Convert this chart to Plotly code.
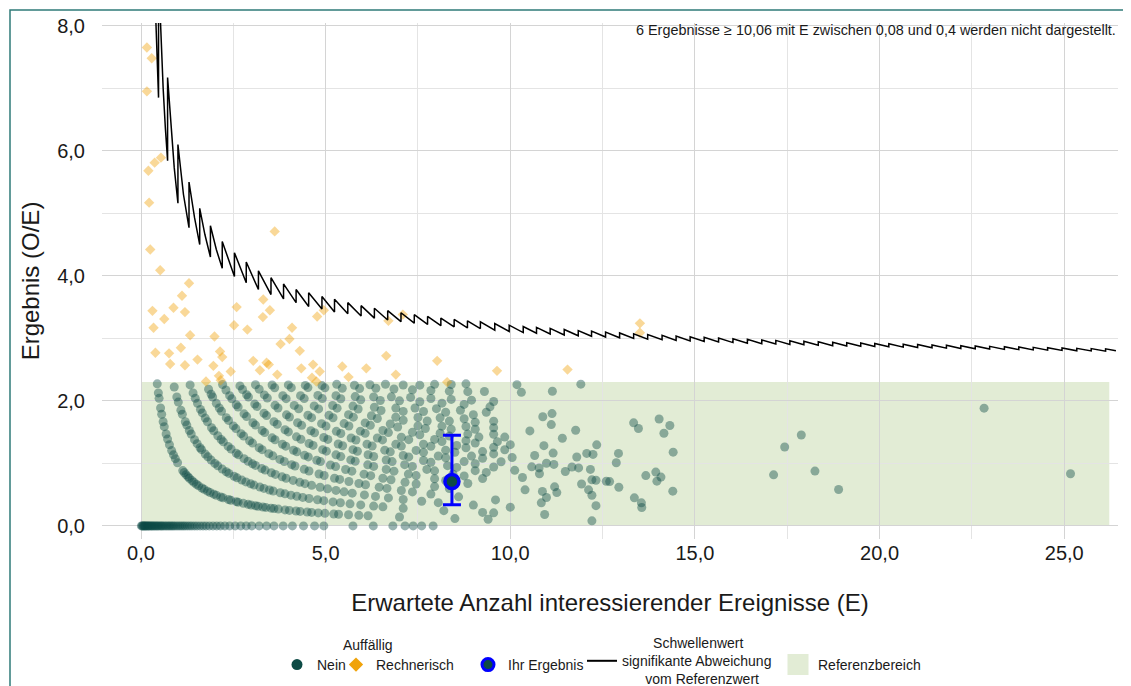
import plotly.graph_objects as go

# ---------------- data ----------------
# expected values E of "Nein" results, grouped by observed count O
E_O0 = [0.01,0.03,0.05,0.07,0.09,0.11,0.13,0.15,0.18,0.2,0.22,0.25,0.28,0.3,0.33,0.36,0.39,0.42,0.45,0.48,
        0.52,0.55,0.58,0.62,0.66,0.7,0.74,0.78,0.82,0.86,0.9,0.95,1.0,1.05,1.1,1.15,1.2,1.26,1.32,1.38,
        1.45,1.52,1.6,1.68,1.76,1.85,1.95,2.05,2.15,2.27,2.4,2.55,2.7,2.85,3.0,3.2,3.4,3.6,3.85,4.1,
        4.4,4.7,4.95,5.74,6.29,6.82,7.15,7.37,7.6,7.91]
E_O1 = [0.44,0.47,0.49,0.53,0.56,0.6,0.63,0.68,0.72,0.77,0.83,0.88,0.93,0.99,1.13,1.17,1.22,1.27,1.31,1.38,
        1.43,1.5,1.56,1.65,1.71,1.8,1.87,1.97,2.04,2.16,2.22,2.37,2.43,2.58,2.63,2.77,2.9,2.98,3.1,3.17,
        3.3,3.38,3.52,3.6,3.72,3.9,4.02,4.2,4.31,4.5,4.62,4.8,4.98,5.22,5.35,5.62,5.9,6.15,7.0,8.5,9.4]
E_O2 = [0.9,0.97,1.01,1.08,1.12,1.2,1.24,1.31,1.36,1.45,1.52,1.6,1.64,1.74,1.81,1.9,2.0,2.08,2.2,2.31,
        2.38,2.52,2.6,2.73,2.84,2.97,3.06,3.22,3.33,3.48,3.58,3.77,3.9,4.06,4.22,4.38,4.55,4.78,4.95,5.2,
        5.4,5.66,5.95,6.3,6.55,7.1,8.2,9.25,9.55]
E_O3 = [1.33,1.41,1.47,1.53,1.61,1.66,1.74,1.8,1.91,1.97,2.08,2.17,2.23,2.36,2.44,2.58,2.64,2.79,2.9,3.02,
        3.1,3.27,3.36,3.53,3.64,3.82,3.93,4.12,4.3,4.44,4.62,4.85,5.05,5.28,5.5,5.72,6.05,6.35,6.7,7.1,
        7.6,8.05,9.0,10.0]
E_O4 = [1.83,1.9,1.94,2.04,2.12,2.18,2.31,2.37,2.5,2.57,2.71,2.78,2.94,3.02,3.2,3.28,3.46,3.57,3.76,3.88,
        4.08,4.17,4.42,4.55,4.82,4.96,5.24,5.38,5.63,5.9,6.08,6.45,6.66,7.05,7.35,7.85,8.6,9.6]
E_O5 = [2.21,2.3,2.4,2.46,2.58,2.63,2.79,2.86,3.03,3.1,3.28,3.35,3.55,3.63,3.83,3.92,4.13,4.22,4.43,4.53,
        4.76,4.86,5.13,5.27,5.54,5.71,6.04,6.22,6.55,6.77,7.15,7.45,7.95,8.35]
E_O6 = [2.68,2.75,2.86,2.91,3.08,3.14,3.33,3.4,3.6,3.69,3.9,3.99,4.21,4.33,4.55,4.66,4.92,5.02,5.28,5.41,
        5.68,5.8,6.14,6.3,6.64,6.85,7.24,7.45,7.95,8.25,8.85]
E_O7 = [3.1,3.2,3.34,3.42,3.63,3.71,3.94,4.02,4.24,4.35,4.6,4.7,4.95,5.06,5.34,5.46,5.74,5.86,6.15,6.3,
        6.64,6.8,7.14,7.35,7.74,7.95,8.45,8.75,9.25]
E_O8 = [3.55,3.62,3.84,3.93,4.15,4.27,4.52,4.62,4.89,5.01,5.29,5.41,5.69,5.82,6.12,6.26,6.6,6.75,7.1,7.25,
        7.65,7.85,8.3,8.55,9.05,9.35]
E_O9 = [3.99,4.07,4.32,4.42,4.69,4.81,5.09,5.2,5.5,5.63,5.94,6.07,6.4,6.54,6.9,7.05,7.45,7.65,8.05,8.25,
        8.75,9.05,9.55]
E_O10 = [4.45,4.52,4.79,4.91,5.19,5.31,5.62,5.75,6.07,6.21,6.55,6.7,7.05,7.25,7.65,7.85,8.25,8.5,8.95,9.25,9.75]
E_O11 = [4.9,4.98,5.28,5.41,5.74,5.88,6.24,6.4,6.75,6.95,7.35,7.55,7.95,8.15,8.55,8.8,9.25,9.55,10.05]
E_O12 = [5.3,5.45,5.8,5.95,6.32,6.5,6.9,7.1,7.5,7.7,8.1,8.35,8.8,9.05,9.55,9.85]
E_O13 = [5.78,5.92,6.3,6.48,6.9,7.1,7.5,7.75,8.15,8.4,8.85,9.15,9.65,10.0]
E_O14 = [6.2,6.36,6.78,7.0,7.42,7.65,8.1,8.35,8.8,9.05,9.55,9.85]
E_O15 = [6.62,6.85,7.3,7.55,8.0,8.25,8.75,9.05,9.55]
E_O16 = [7.1,7.35,7.85,8.15,8.65,9.0,9.55]
E_O17 = [7.55,7.85,8.4,8.75,9.35]
E_O18 = [7.95,8.35,8.95,9.45]
E_O19 = [8.4,8.85,9.55]
E_O20 = [8.8,9.3]

# scattered "Nein" results with larger E (expected E, observed O)
far_E = [10.18,10.30,11.14,11.91,10.88,11.13,11.11,10.53,11.77,11.41,10.12,10.33,10.40,10.66,10.91,11.16,
         11.18,10.98,10.78,10.58,10.79,10.87,10.98,11.20,11.26,10.84,10.93,11.49,11.67,11.85,12.17,11.80,
         12.07,12.24,12.34,11.93,12.21,12.32,12.12,12.21,12.32,12.21,12.60,12.69,12.94,12.87,12.93,13.34,
         13.47,14.03,14.32,14.16,14.41,13.67,13.94,14.08,13.97,13.36,13.55,13.56,14.40,17.13,17.43,17.88,
         18.25,18.89,22.83,25.17]
far_O = [23,22,24,27,19,20,18,16,18,16,9,8,6,12,14,13,
         11,11,10,10,9,6,5,7,6,4,2,10,11,11,11,13,
         14,14,16,8,9,9,7,6,4,1,9,9,8,13,15,22,
         21,24,23,21,17,11,12,11,10,6,5,4,8,14,22,26,
         16,11,43,21]

# "Rechnerisch" results (E, O/E)
re_E = [0.16,0.29,0.16,0.54,0.37,0.20,0.22,3.62,0.25,0.52,1.30,1.11,0.88,0.31,1.19,0.63,2.59,3.31,3.49,3.30,
        4.77,4.95,4.09,2.52,2.88,1.33,1.99,4.02,3.78,4.30,0.39,0.34,0.76,1.08,0.79,1.19,1.53,1.96,2.20,2.14,
        2.43,3.04,3.22,3.40,3.46,3.69,4.34,4.66,4.84,4.63,4.75,1.76,2.11,2.16,6.70,7.09,13.51,13.51,
        5.45,5.62,6.10,6.64,6.90,8.02,8.29,9.64,11.55]
re_y = [7.65,7.48,6.95,5.89,5.81,5.68,5.17,4.71,4.42,4.09,3.88,3.68,3.49,3.44,3.42,3.31,3.50,3.62,3.45,3.34,
        3.35,3.45,3.17,3.21,3.14,3.05,3.03,2.99,2.91,2.80,2.77,3.17,2.76,2.85,2.59,2.57,2.66,2.56,2.70,2.79,
        2.47,2.64,2.49,2.61,2.58,2.42,2.52,2.58,2.47,2.37,2.31,2.31,2.40,2.33,3.28,3.38,3.24,3.09,
        2.55,2.38,2.52,2.72,2.42,2.64,2.30,2.48,2.50]

# own result
ihr_E = [8.42]
ihr_y = [0.71]
ihr_lo = [0.34]
ihr_hi = [1.45]

# threshold line vertices
thr_E = [0.40,0.475,0.475,0.525,0.60,0.66,0.72,0.72,0.80,0.90,1.00,1.00,1.15,1.30,1.30,1.45,1.59,1.59,1.73,1.88,
         1.88,2.04,2.20,2.20,2.53,2.53,2.85,2.85,3.18,3.18,3.52,3.52,3.86,3.86,4.20,4.20,4.54,4.54,4.90,4.90,
         5.24,5.24,5.60,5.60,5.96,5.96,6.32,6.32,6.68,6.68,7.04,7.04,7.40,7.40,7.76,7.76,8.12,8.12,8.48,8.48,
         8.84,8.84,9.19,9.19,9.58,9.58,9.97,9.97,10.35,10.35,10.71,10.71,11.08,11.08,11.46,11.46,11.84,11.84,
         12.20,12.20,12.58,12.58,12.96,12.96,13.34,13.34,13.72,13.72,14.11,14.11,14.49,14.49,14.87,14.87,
         15.25,15.25,15.64,15.64,16.03,16.03,16.42,16.42,16.81,16.81,17.19,17.19,17.57,17.57,17.95,17.95,
         18.34,18.34,18.73,18.73,19.11,19.11,19.49,19.49,19.87,19.87,20.25,20.25,20.64,20.64,21.03,21.03,
         21.42,21.42,21.81,21.81,22.20,22.20,22.59,22.59,22.98,22.98,23.38,23.38,23.77,23.77,24.16,24.16,
         24.55,24.55,24.94,24.94,25.34,25.34,25.73,25.73,26.12,26.12,26.40]
thr_y = [8.12,6.85,8.84,8.00,7.00,6.36,5.84,7.17,6.45,5.73,5.16,6.10,5.30,4.77,5.50,4.93,4.50,5.08,4.66,4.30,
         4.80,4.42,4.12,4.55,3.99,4.37,3.89,4.22,3.78,4.08,3.70,3.97,3.63,3.87,3.57,3.78,3.51,3.73,3.47,3.67,
         3.42,3.626,3.393,3.571,3.356,3.523,3.323,3.481,3.293,3.443,3.267,3.409,3.243,3.378,3.222,3.351,3.202,3.325,3.184,3.302,
         3.167,3.281,3.156,3.264,3.132,3.236,3.109,3.210,3.092,3.188,3.081,3.175,3.069,3.159,3.054,3.141,3.041,3.125,
         3.033,3.115,3.021,3.100,3.009,3.086,2.999,3.073,2.988,3.061,2.977,3.047,2.968,3.037,2.959,3.026,
         2.951,3.016,2.941,3.005,2.932,2.994,2.923,2.984,2.915,2.974,2.909,2.967,2.903,2.960,2.897,2.953,
         2.890,2.944,2.883,2.936,2.878,2.930,2.873,2.925,2.869,2.919,2.864,2.914,2.859,2.907,2.853,2.901,
         2.848,2.894,2.843,2.889,2.838,2.883,2.833,2.877,2.829,2.872,2.823,2.866,2.819,2.861,2.815,2.856,
         2.811,2.851,2.807,2.847,2.802,2.841,2.798,2.837,2.795,2.833,2.803]

ref_low, ref_high = 0.0, 2.3
ref_E_max = 26.22

x_ticks = [0, 5, 10, 15, 20, 25]
y_ticks = [0, 2, 4, 6, 8]

# ---------------- build ----------------
groups = [E_O0, E_O1, E_O2, E_O3, E_O4, E_O5, E_O6, E_O7, E_O8, E_O9, E_O10,
          E_O11, E_O12, E_O13, E_O14, E_O15, E_O16, E_O17, E_O18, E_O19, E_O20]
nein_x, nein_y = [], []
for obs, lst in enumerate(groups):
    for e in lst:
        nein_x.append(e)
        nein_y.append(obs / e)
for e, o in zip(far_E, far_O):
    nein_x.append(e)
    nein_y.append(o / e)

GREEN = "#0d4b45"
ORANGE = "#f0a30a"
FONT = "Liberation Sans, Arial, sans-serif"
TXT = "#1a1a1a"

# the page puts the figure 8 px from the top-left corner; work in window pixels
OFF = 8
FW, FH = 1131 - OFF, 686 - OFF
L = 102 - OFF
T = 23 - OFF
R = FW - (1118 - OFF)
B = FH - (539 - OFF)
PW, PH = FW - L - R, FH - T - B
def px(xp):
    return (xp - OFF - L) / PW
def py(yp):
    return (FH - B - (yp - OFF)) / PH

fig = go.Figure()

fig.add_trace(go.Scatter(x=nein_x, y=nein_y, mode="markers", showlegend=False,
                         marker=dict(symbol="circle", size=9, color="rgba(13,75,69,0.42)", line=dict(width=0)),
                         hoverinfo="skip"))
fig.add_trace(go.Scatter(x=re_E, y=re_y, mode="markers", showlegend=False,
                         marker=dict(symbol="diamond", size=8, color="rgba(240,163,10,0.42)", line=dict(width=0)),
                         hoverinfo="skip"))
fig.add_trace(go.Scatter(x=thr_E, y=thr_y, mode="lines", showlegend=False,
                         line=dict(color="black", width=1.5), hoverinfo="skip"))
fig.add_trace(go.Scatter(x=ihr_E, y=ihr_y, mode="markers", showlegend=False,
                         error_y=dict(type="data", symmetric=False,
                                      array=[h - v for h, v in zip(ihr_hi, ihr_y)],
                                      arrayminus=[v - l for l, v in zip(ihr_lo, ihr_y)],
                                      color="#0000ff", thickness=3, width=9),
                         marker=dict(symbol="circle", size=14, color=GREEN, line=dict(color="#0000ff", width=3.5))))

NB = "\u00a0"
# legend entries (one legend each, so they can sit where the reference has them)
fig.add_trace(go.Scatter(x=[None], y=[None], mode="markers", name="Nein", legend="legend",
                         marker=dict(symbol="circle", size=11, color=GREEN)))
fig.add_trace(go.Scatter(x=[None], y=[None], mode="markers", name="Rechnerisch", legend="legend2",
                         marker=dict(symbol="diamond", size=11, color=ORANGE)))
fig.add_trace(go.Scatter(x=[None], y=[None], mode="markers", name="Ihr Ergebnis", legend="legend3",
                         marker=dict(symbol="circle", size=12, color=GREEN, line=dict(color="#0000ff", width=3))))
fig.add_trace(go.Scatter(x=[None], y=[None], mode="lines", legend="legend4",
                         name=NB * 8 + "Schwellenwert<br>signifikante Abweichung<br>" + NB * 6 + "vom Referenzwert",
                         line=dict(color="black", width=2)))
fig.add_trace(go.Scatter(x=[None], y=[None], mode="markers", name="Referenzbereich", legend="legend5",
                         marker=dict(symbol="square", size=16, color="#e2ecd5",
                                     line=dict(color="#e2ecd5", width=5))))

fig.add_shape(type="rect", xref="x", yref="y", x0=0, x1=ref_E_max, y0=ref_low, y1=ref_high,
              fillcolor="#e2ecd5", line=dict(width=0), layer="below")

# figure frame
fig.add_shape(type="rect", xref="paper", yref="paper", x0=px(10), x1=px(1128), y0=py(700), y1=py(10),
              line=dict(color="#2f7b78", width=1.5), fillcolor="rgba(0,0,0,0)", layer="above")

fig.add_annotation(text="6 Ergebnisse ≥ 10,06 mit E zwischen 0,08 und 0,4 werden nicht dargestellt.",
                   xref="paper", yref="paper", x=px(1118), y=py(30), xanchor="right", yanchor="middle",
                   showarrow=False, font=dict(size=14.4, color=TXT, family=FONT))
fig.add_annotation(text="Auffällig", xref="paper", yref="paper", x=px(368), y=py(645),
                   xanchor="center", yanchor="middle", showarrow=False,
                   font=dict(size=14, color=TXT, family=FONT))

def leg(xpix, ypix=665):
    return dict(orientation="v", x=px(xpix), xanchor="left", y=py(ypix), yanchor="middle",
                font=dict(size=14, color=TXT, family=FONT), bgcolor="rgba(0,0,0,0)",
                itemsizing="trace", borderwidth=0)

fig.update_layout(
    width=FW, height=FH,
    margin=dict(l=L, r=R, t=T, b=B, autoexpand=False),
    paper_bgcolor="white", plot_bgcolor="white",
    separators=",.",
    font=dict(family=FONT, color=TXT),
    showlegend=True,
    legend=leg(277), legend2=leg(336), legend3=leg(468), legend4=leg(582, 661), legend5=leg(778),
    xaxis=dict(range=[-1.056, 26.456], tickvals=x_ticks, tickformat=".1f", automargin=False,
               showgrid=True, gridcolor="#d4d4d4", gridwidth=1.3, zeroline=False, showline=False,
               ticks="", tickfont=dict(size=20, color=TXT),
               minor=dict(dtick=2.5, tick0=0, showgrid=True, gridcolor="#e4e4e4", gridwidth=1),
               title=dict(text="Erwartete Anzahl interessierender Ereignisse (E)",
                          font=dict(size=24, color=TXT), standoff=31)),
    yaxis=dict(range=[-0.209, 8.043], tickvals=y_ticks, tickformat=".1f", automargin=False,
               showgrid=True, gridcolor="#d4d4d4", gridwidth=1.3, zeroline=False, showline=False,
               ticks="outside", ticklen=12, tickcolor="rgba(0,0,0,0)",
               tickfont=dict(size=20, color=TXT),
               minor=dict(dtick=1, tick0=0, showgrid=True, gridcolor="#e4e4e4", gridwidth=1),
               title=dict(text="Ergebnis (O/E)", font=dict(size=24, color=TXT), standoff=10)),
)

fig.write_html("out.html")
